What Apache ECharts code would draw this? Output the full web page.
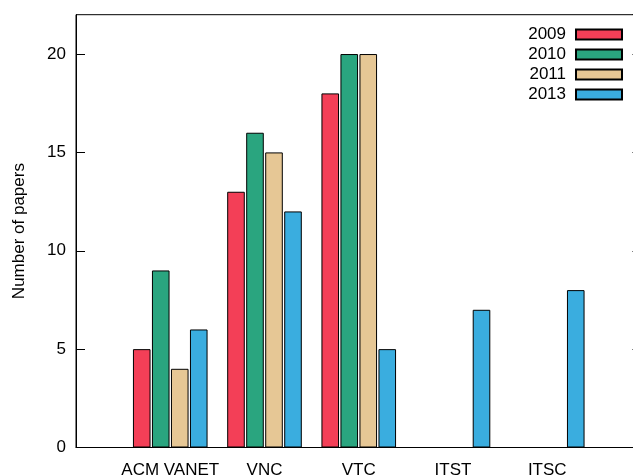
<!DOCTYPE html>
<html>
<head>
<meta charset="utf-8">
<script src="https://cdn.jsdelivr.net/npm/echarts@6/dist/echarts.min.js"></script>
<style>
html,body{margin:0;padding:0;background:#fff;}
#c{width:633px;height:476px;}
</style>
</head>
<body>
<div id="c"></div>
<script>
// Categories (blank padding slots at both ends reproduce the x range -1..5)
const categories = ['', 'ACM VANET', 'VNC', 'VTC', 'ITST', 'ITSC', ''];
const years = ['2009', '2010', '2011', '2013'];
const v2009 = [null, 5, 13, 18, null, null, null];
const v2010 = [null, 9, 16, 20, null, null, null];
const v2011 = [null, 4, 15, 20, null, null, null];
const v2013 = [null, 6, 12, 5, 7, 8, null];
const colors = ['#f33f57', '#2aa57f', '#e6c795', '#3aaddf'];
const yTicks = [0, 5, 10, 15, 20];

const FONT = 'Liberation Sans, Arial, sans-serif';
const seriesValues = [v2009, v2010, v2011, v2013];

const chart = echarts.init(document.getElementById('c'), null, {renderer: 'canvas'});
const yBase = {
  type: 'value', min: 0, max: 22, interval: 5,
  splitLine: {show: false}
};
chart.setOption({
  animation: false,
  backgroundColor: '#fff',
  grid: {left: 76, top: 14.7, width: 565.5, height: 432.8, show: true, borderColor: '#000', borderWidth: 1,
    containLabel: false, outerBoundsMode: 'none'},
  legend: {
    orient: 'vertical', right: 5, top: 19.5, align: 'right',
    itemWidth: 46, itemHeight: 10, itemGap: 0, icon: 'rect',
    textStyle: {fontFamily: FONT, fontSize: 17, color: '#000', lineHeight: 20, padding: [0, 5, 0, 0]},
    data: years
  },
  xAxis: {
    type: 'category', data: categories, boundaryGap: false,
    axisLine: {lineStyle: {color: '#000', width: 1}},
    axisTick: {show: false},
    axisLabel: {color: '#000', fontFamily: FONT, fontSize: 17, margin: 14, interval: 0}
  },
  yAxis: [
    Object.assign({}, yBase, {
      position: 'left',
      name: 'Number of papers', nameLocation: 'middle', nameGap: 48,
      nameTextStyle: {fontFamily: FONT, fontSize: 17, color: '#000'},
      axisLine: {show: true, lineStyle: {color: '#000', width: 1}},
      axisTick: {show: true, inside: true, length: 9, lineStyle: {color: '#000'}},
      axisLabel: {color: '#000', fontFamily: FONT, fontSize: 17, margin: 10, showMaxLabel: false,
        formatter: v => (yTicks.indexOf(v) >= 0 ? String(v) : '')}
    }),
    Object.assign({}, yBase, {
      position: 'right',
      axisLine: {show: false},
      axisTick: {show: true, inside: true, length: 9, lineStyle: {color: '#000'}},
      axisLabel: {show: false}
    })
  ],
  series: years.map((y, i) => ({
    name: y, type: 'bar', data: seriesValues[i],
    barWidth: 17.6, barGap: '8%',
    itemStyle: {color: colors[i], borderColor: '#000', borderWidth: 1}
  }))
});
</script>
</body>
</html>
